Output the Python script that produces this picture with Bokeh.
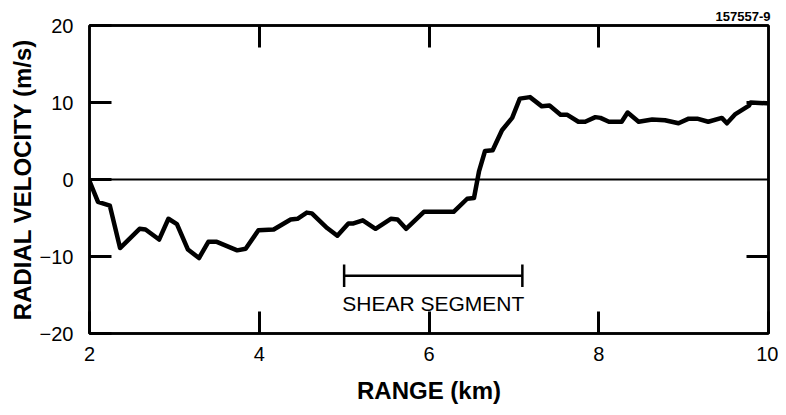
from bokeh.plotting import figure
from bokeh.models import (Range1d, LinearAxis, FixedTicker, Span, Label, ColumnDataSource)
from bokeh.embed import file_html
from bokeh.resources import INLINE

# Data
range_km = [2.00, 2.10, 2.24, 2.36, 2.59, 2.66, 2.82, 2.93, 3.03, 3.16, 3.29, 3.40, 3.50,
            3.74, 3.84, 3.99, 4.17, 4.37, 4.45, 4.56, 4.62, 4.80, 4.92, 5.05, 5.11, 5.22,
            5.37, 5.55, 5.63, 5.73, 5.94, 6.29, 6.45, 6.53, 6.59, 6.66, 6.75, 6.86, 6.98,
            7.07, 7.19, 7.33, 7.42, 7.55, 7.63, 7.76, 7.84, 7.96, 8.02, 8.12, 8.27, 8.34,
            8.47, 8.63, 8.78, 8.94, 9.06, 9.16, 9.29, 9.45, 9.51, 9.61, 9.77, 9.79, 9.98, 10.0]
velocity = [-0.2, -2.9, -3.4, -8.9, -6.4, -6.5, -7.8, -5.1, -5.8, -9.1, -10.2, -8.1, -8.1,
            -9.2, -9.0, -6.6, -6.5, -5.2, -5.1, -4.3, -4.4, -6.3, -7.3, -5.7, -5.7, -5.3,
            -6.4, -5.1, -5.2, -6.4, -4.2, -4.2, -2.5, -2.4, 1.1, 3.7, 3.8, 6.4, 8.0,
            10.5, 10.7, 9.5, 9.6, 8.4, 8.4, 7.5, 7.5, 8.1, 8.0, 7.5, 7.5, 8.7,
            7.5, 7.8, 7.7, 7.3, 7.9, 7.9, 7.5, 8.0, 7.3, 8.5, 9.6, 10.0, 9.9, 9.9]

x_ticks = [2, 4, 6, 8, 10]
y_ticks = [-20, -10, 0, 10, 20]
y_tick_labels = {-20: "\u221220", -10: "\u221210", 0: "0", 10: "10", 20: "20"}
top_ticks = [4, 6, 8]
right_ticks = [-10, 10]

shear_start, shear_end, shear_level = 5.0, 7.1, -12.5
shear_text = "SHEAR SEGMENT"
figure_id = "157557-9"

FONT = "Liberation Sans"

p = figure(width=778, height=407, output_backend="svg", toolbar_location=None,
           x_range=Range1d(2, 10), y_range=Range1d(-20, 20),
           min_border_left=89, min_border_right=10, min_border_top=25, min_border_bottom=74,
           background_fill_color="white", border_fill_color="white")
p.grid.visible = False
p.outline_line_color = "black"
p.outline_line_width = 2.5

p.title.text = figure_id
p.title.align = "right"
p.title.text_font = FONT
p.title.text_font_style = "bold"
p.title.text_font_size = "13px"
p.title.text_color = "black"
p.title.standoff = 9
p.title.offset = -2

xa = p.xaxis[0]
xa.ticker = FixedTicker(ticks=x_ticks)
xa.minor_tick_line_color = None
xa.major_tick_in = 22
xa.major_tick_out = 0
xa.major_tick_line_width = 3
xa.axis_line_width = 2.5
xa.major_label_text_font = FONT
xa.major_label_text_font_size = "20px"
xa.major_label_text_color = "black"
xa.major_label_standoff = 13
xa.axis_label = "RANGE (km)"
xa.axis_label_text_font = FONT
xa.axis_label_text_font_style = "bold"
xa.axis_label_text_font_size = "24px"
xa.axis_label_text_color = "black"
xa.axis_label_text_line_height = 0.8
xa.axis_label_standoff = 13

ya = p.yaxis[0]
ya.ticker = FixedTicker(ticks=y_ticks)
ya.major_label_overrides = y_tick_labels
ya.minor_tick_line_color = None
ya.major_tick_in = 22
ya.major_tick_out = 0
ya.major_tick_line_width = 3
ya.axis_line_width = 2.5
ya.major_label_text_font = FONT
ya.major_label_text_font_size = "20px"
ya.major_label_text_color = "black"
ya.major_label_standoff = 16
ya.axis_label = "RADIAL VELOCITY (m/s)"
ya.axis_label_text_font = FONT
ya.axis_label_text_font_style = "bold"
ya.axis_label_text_font_size = "24px"
ya.axis_label_text_color = "black"
ya.axis_label_standoff = 1

top = LinearAxis(ticker=FixedTicker(ticks=top_ticks), major_tick_in=22, major_tick_out=0,
                 major_tick_line_width=3, minor_tick_line_color=None, axis_line_width=2.5,
                 major_label_text_color=None, major_label_text_font_size="1px",
                 major_label_standoff=0)
p.add_layout(top, "above")
right = LinearAxis(ticker=FixedTicker(ticks=right_ticks), major_tick_in=22, major_tick_out=0,
                   major_tick_line_width=3, minor_tick_line_color=None, axis_line_width=2.5,
                   major_label_text_color=None, major_label_text_font_size="1px",
                   major_label_standoff=0)
p.add_layout(right, "right")

p.add_layout(Span(location=0, dimension="width", line_color="black", line_width=2))

src = ColumnDataSource(dict(x=range_km, y=velocity))
p.line("x", "y", source=src, line_color="black", line_width=4.5, line_join="round")

# shear segment bar with end caps
p.segment(x0=[shear_start], y0=[shear_level], x1=[shear_end], y1=[shear_level],
          line_color="black", line_width=2.5)
p.segment(x0=[shear_start, shear_end], y0=[shear_level - 1.45, shear_level - 1.45],
          x1=[shear_start, shear_end], y1=[shear_level + 1.45, shear_level + 1.45],
          line_color="black", line_width=2.5)
p.add_layout(Label(x=(shear_start + shear_end) / 2, y=shear_level, y_offset=-28,
                   text=shear_text, text_align="center", text_baseline="middle",
                   text_font=FONT, text_font_size="21px", text_color="black"))

open("out.html", "w").write(file_html(p, INLINE))
